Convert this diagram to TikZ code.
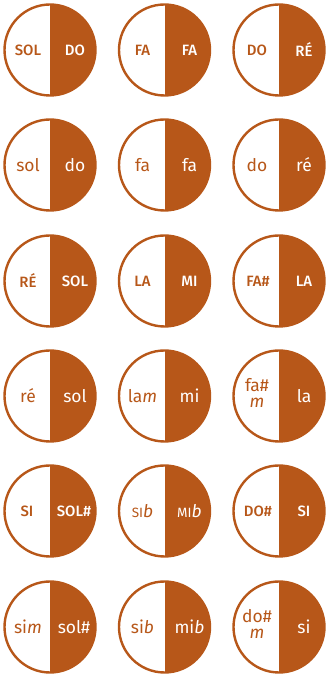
\documentclass[tikz,border=0pt]{standalone}
\usepackage{fontspec}
\setmainfont{Fira Sans}
\newfontfamily\firamd{Fira Sans Medium}
\definecolor{brn}{RGB}{183,87,25}
\begin{document}
\begin{tikzpicture}[x=1bp,y=1bp,
  disc/.style={circle, draw=brn, line width=2.4bp, minimum size=91bp, inner sep=0pt,
    path picture={\fill[brn] (path picture bounding box.north) rectangle (path picture bounding box.south east);}},
  lft/.style={text=brn, font=\fontsize{17.5}{16}\selectfont, align=center, inner sep=0pt},
  rgt/.style={text=white, font=\fontsize{17.5}{16}\selectfont, align=center, inner sep=0pt},
  capsl/.style={lft, font=\firamd\fontsize{15}{16}\selectfont},
  capsr/.style={rgt, font=\firamd\fontsize{15}{16}\selectfont}]
\useasboundingbox (0,0) rectangle (325,674);
% centres
\def\xa{50}\def\xb{164.5}\def\xc{279}
\def\ya{624}\def\yb{509}\def\yc{393}\def\yd{278}\def\ye{163}\def\yf{47}
% row 1
\node[disc] (c11) at (\xa,\ya) {};
\node[disc] (c12) at (\xb,\ya) {};
\node[disc] (c13) at (\xc,\ya) {};
\node[capsl] (l11) at ([xshift=-22bp]c11.center) {SOL};
\node[capsr] (r11) at ([xshift=25bp]c11.center) {DO};
\node[capsl] (l12) at ([xshift=-22bp]c12.center) {FA};
\node[capsr] (r12) at ([xshift=25bp]c12.center) {FA};
\node[capsl] (l13) at ([xshift=-22bp]c13.center) {DO};
\node[capsr] (r13) at ([xshift=25bp]c13.center) {RÉ};
% row 2
\node[disc] (c21) at (\xa,\yb) {};
\node[disc] (c22) at (\xb,\yb) {};
\node[disc] (c23) at (\xc,\yb) {};
\node[lft] (l21) at ([xshift=-22bp]c21.center) {sol};
\node[rgt] (r21) at ([xshift=25bp]c21.center) {do};
\node[lft] (l22) at ([xshift=-22bp]c22.center) {fa};
\node[rgt] (r22) at ([xshift=25bp]c22.center) {fa};
\node[lft] (l23) at ([xshift=-22bp]c23.center) {do};
\node[rgt] (r23) at ([xshift=25bp]c23.center) {ré};
% row 3
\node[disc] (c31) at (\xa,\yc) {};
\node[disc] (c32) at (\xb,\yc) {};
\node[disc] (c33) at (\xc,\yc) {};
\node[capsl] (l31) at ([xshift=-22bp]c31.center) {RÉ};
\node[capsr] (r31) at ([xshift=25bp]c31.center) {SOL};
\node[capsl] (l32) at ([xshift=-22bp]c32.center) {LA};
\node[capsr] (r32) at ([xshift=25bp]c32.center) {MI};
\node[capsl] (l33) at ([xshift=-21bp]c33.center) {FA\#};
\node[capsr] (r33) at ([xshift=25bp]c33.center) {LA};
% row 4
\node[disc] (c41) at (\xa,\yd) {};
\node[disc] (c42) at (\xb,\yd) {};
\node[disc] (c43) at (\xc,\yd) {};
\node[lft] (l41) at ([xshift=-22bp]c41.center) {ré};
\node[rgt] (r41) at ([xshift=25bp]c41.center) {sol};
\node[lft] (l42) at ([xshift=-22bp]c42.center) {la\textit{m}};
\node[rgt] (r42) at ([xshift=25bp]c42.center) {mi};
\node[lft] (l43) at ([xshift=-22bp,yshift=3bp]c43.center) {fa\#\\\textit{m}};
\node[rgt] (r43) at ([xshift=25bp]c43.center) {la};
% row 5
\node[disc] (c51) at (\xa,\ye) {};
\node[disc] (c52) at (\xb,\ye) {};
\node[disc] (c53) at (\xc,\ye) {};
\node[capsl] (l51) at ([xshift=-23bp]c51.center) {SI};
\node[capsr] (r51) at ([xshift=24bp]c51.center) {SOL\#};
\node[lft] (l52) at ([xshift=-22bp]c52.center) {{\fontsize{13.5}{16}\selectfont SI}\textit{b}};
\node[rgt] (r52) at ([xshift=25bp]c52.center) {{\fontsize{13.5}{16}\selectfont MI}\textit{b}};
\node[capsl] (l53) at ([xshift=-21bp]c53.center) {DO\#};
\node[capsr] (r53) at ([xshift=25bp]c53.center) {SI};
% row 6
\node[disc] (c61) at (\xa,\yf) {};
\node[disc] (c62) at (\xb,\yf) {};
\node[disc] (c63) at (\xc,\yf) {};
\node[lft] (l61) at ([xshift=-22bp]c61.center) {si\textit{m}};
\node[rgt] (r61) at ([xshift=24bp]c61.center) {sol\#};
\node[lft] (l62) at ([xshift=-22bp]c62.center) {si\textit{b}};
\node[rgt] (r62) at ([xshift=25bp]c62.center) {mi\textit{b}};
\node[lft] (l63) at ([xshift=-22bp,yshift=3bp]c63.center) {do\#\\\textit{m}};
\node[rgt] (r63) at ([xshift=25bp]c63.center) {si};
\end{tikzpicture}
\end{document}
